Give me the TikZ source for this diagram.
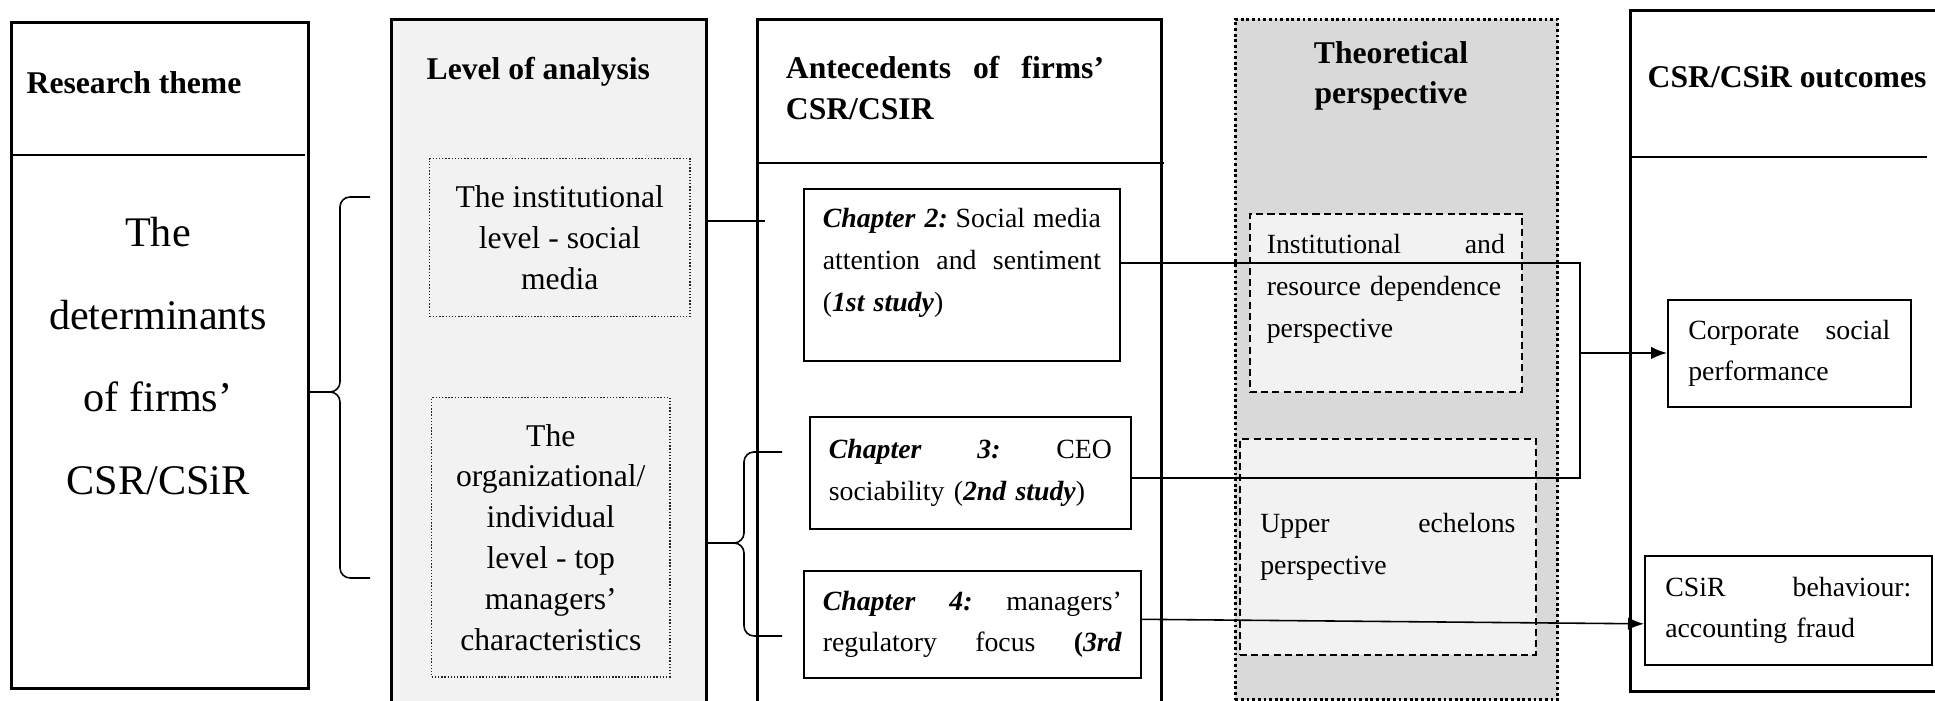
\documentclass[tikz,border=0pt]{standalone}
\usepackage{fontspec}
\setmainfont{Liberation Serif}
\usepackage{tikz}
\usetikzlibrary{arrows.meta,positioning}
\definecolor{lightfill}{HTML}{F2F2F2}
\definecolor{darkfill}{HTML}{D9D9D9}
\newcommand{\fnthead}{\fontsize{9}{11.6}\selectfont\bfseries}
\newcommand{\fntlevel}{\fontsize{9}{11.6}\selectfont}
\newcommand{\fntsmall}{\fontsize{7.9}{11.9}\selectfont}
\newcommand{\fntbig}{\fontsize{12}{23.5}\selectfont}
\newcommand{\chap}[1]{\textbf{\textit{#1}}}
\tikzstyle{col} = [rectangle, draw, line width=0.8pt, anchor=north west, inner sep=0pt]
\tikzstyle{head} = [font=\fnthead, inner sep=0pt]
\tikzstyle{lvlbox} = [rectangle, draw=black!85, line width=0.4pt, dash pattern=on 0.4pt off 0.5pt,
    fill=lightfill, anchor=north west, font=\fntlevel, align=center, inner sep=0pt]
\tikzstyle{study} = [rectangle, draw, line width=0.45pt, anchor=north west,
    font=\fntsmall, align=left, inner sep=0pt]
\tikzstyle{persp} = [study, dash pattern=on 2pt off 1.2pt, fill=lightfill]
\tikzstyle{link} = [line width=0.45pt]
\tikzstyle{brace} = [line width=0.45pt, rounded corners=0.1cm]

\begin{document}
\begin{tikzpicture}[x=0.01cm, y=-0.01cm, >={Latex[length=1.6mm,width=1.25mm]}]
  \useasboundingbox (0,0) rectangle (1935,701);

  % columns
  \node[col, minimum width=2.97cm, minimum height=6.66cm] (theme) at (10,21) {};
  \node[col, fill=lightfill, minimum width=3.15cm, minimum height=6.9cm] (level) at (390,18) {};
  \node[col, minimum width=4.04cm, minimum height=6.9cm] (ante) at (756,18) {};
  \node[col, fill=darkfill, dash pattern=on 0.8pt off 0.8pt,
        minimum width=3.22cm, minimum height=6.8cm] (theory) at (1234,18) {};
  \node[col, minimum width=3.16cm, minimum height=6.81cm] (outcome) at (1629,9) {};

  \draw[link] (10,155) -- (305,155);
  \draw[link] (756,163) -- (1164,163);
  \draw[link] (1629,157) -- (1927,157);

  % headers
  \node[head, anchor=west] (themehead) at (26,83) {Research theme};
  \node[head, anchor=west] (levelhead) at (426,72) {Level of analysis};
  \node[head, text width=3.18cm, align=left] (antehead) at (945,88)
       {Antecedents\hfill of\hfill firms’\\CSR/CSIR};
  \node[head, align=center] (theoryhead) at (1391,76) {Theoretical\\perspective};
  \node[head, anchor=west] (outhead) at (1647,77) {CSR/CSiR outcomes};

  \node[font=\fntbig, align=center] (themetext) at (158,356)
       {The\\determinants\\of firms’\\CSR/CSiR};

  % level of analysis
  \node[lvlbox, minimum width=2.6cm, minimum height=1.58cm] (inst) at (429,158)
       {The institutional\\level - social\\media};
  \node[lvlbox, minimum width=2.38cm, minimum height=2.79cm] (org) at (431,397)
       {The\\organizational/\\individual\\level - top\\managers’\\characteristics};

  % studies
  \node[study, text width=2.78cm, minimum width=3.16cm, minimum height=1.72cm] (ch2) at (803,188)
       {\chap{Chapter 2:}\hfill Social\hfill media\\attention\hfill and\hfill sentiment\\(\chap{1st study})\\[-3.4pt]\mbox{}};
  \node[study, text width=2.83cm, minimum width=3.21cm, minimum height=1.12cm] (ch3) at (809,416)
       {\chap{Chapter}\hfill\chap{3:}\hfill CEO\\sociability (\chap{2nd study})};
  \node[study, text width=2.99cm, minimum width=3.37cm, minimum height=1.07cm] (ch4) at (803,570)
       {\chap{Chapter}\hfill\chap{4:}\hfill managers’\\regulatory\hfill focus\hfill\textbf{(\textit{3rd}}};

  % theoretical perspective
  \node[persp, text width=2.38cm, minimum width=2.72cm, minimum height=1.78cm] (instpersp) at (1249,213)
       {Institutional\hfill and\\resource dependence\\perspective\\[-2.2pt]\mbox{}};
  \node[persp, text width=2.55cm, minimum width=2.96cm, minimum height=2.16cm] (upper) at (1239,438)
       {Upper\hfill echelons\\perspective};

  % outcomes
  \node[study, text width=2.02cm, minimum width=2.43cm, minimum height=1.07cm] (csp) at (1667,299)
       {Corporate\hfill social\\performance};
  \node[study, text width=2.46cm, minimum width=2.87cm, minimum height=1.09cm] (csir) at (1644,555)
       {CSiR\hfill behaviour:\\accounting fraud};

  % braces
  \coordinate (b1top) at (370,197);
  \coordinate (b1bot) at (370,578);
  \coordinate (b1tip) at (308,392);
  \draw[brace] (b1top) -- ++(-30,0) |- (b1tip) (b1bot) -- ++(-30,0) |- (b1tip);
  \coordinate (b2top) at (782,452);
  \coordinate (b2bot) at (782,636);
  \coordinate (b2tip) at (707,543);
  \draw[brace] (b2top) -- ++(-38,0) |- (b2tip) (b2bot) -- ++(-38,0) |- (b2tip);

  % links
  \coordinate (antein) at (765,221);
  \draw[link] (level.east |- antein) -- (antein);
  \coordinate (jtop) at (1580,263);
  \coordinate (jbot) at (1580,478);
  \coordinate (jmid) at (1580,353);
  \draw[link] (ch2.east |- jtop) -- (jtop) -- (jbot) -- (ch3.east |- jbot);
  \draw[link,->] (jmid) -- (csp.west |- jmid);
  \draw[link,->] ([yshift=0.05cm]ch4.east) -- ([yshift=-0.135cm]csir.west);
\end{tikzpicture}
\end{document}
